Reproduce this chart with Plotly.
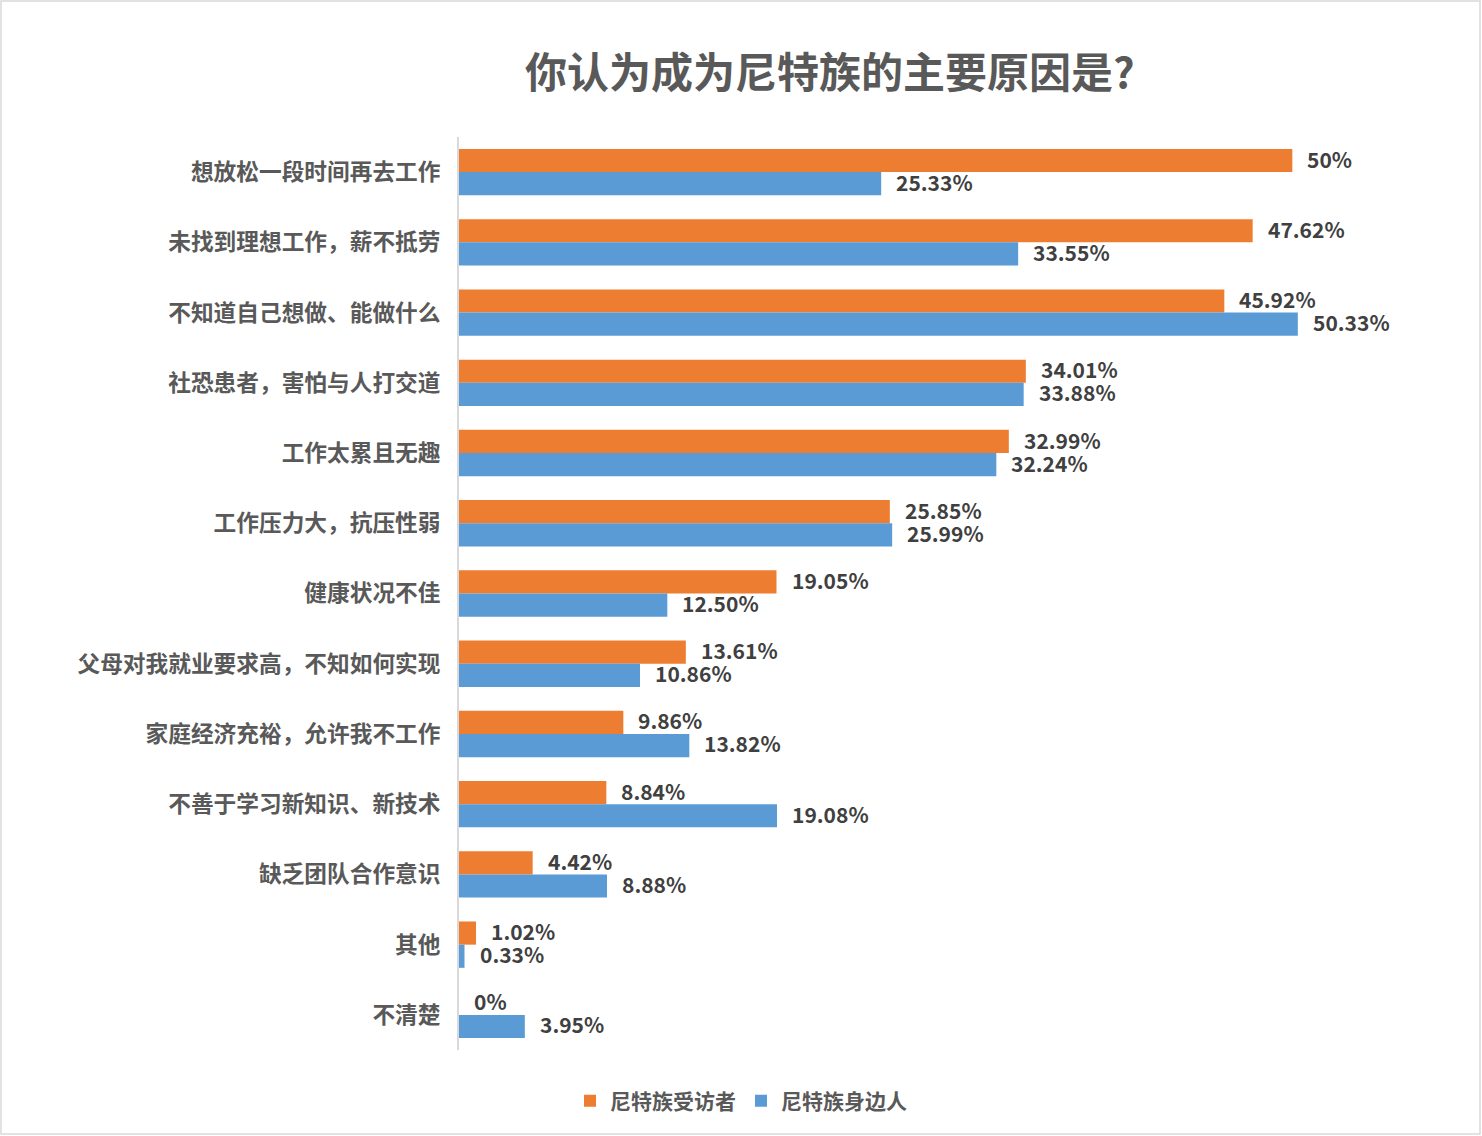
import plotly.graph_objects as go

categories = ["想放松一段时间再去工作", "未找到理想工作，薪不抵劳", "不知道自己想做、能做什么",
              "社恐患者，害怕与人打交道", "工作太累且无趣", "工作压力大，抗压性弱",
              "健康状况不佳", "父母对我就业要求高，不知如何实现", "家庭经济充裕，允许我不工作",
              "不善于学习新知识、新技术", "缺乏团队合作意识", "其他", "不清楚"]
neet_self = [50, 47.62, 45.92, 34.01, 32.99, 25.85, 19.05, 13.61, 9.86, 8.84, 4.42, 1.02, 0]
neet_around = [25.33, 33.55, 50.33, 33.88, 32.24, 25.99, 12.50, 10.86, 13.82, 19.08, 8.88, 0.33, 3.95]
series_names = ["尼特族受访者", "尼特族身边人"]


def fmt(v):
    return f"{v:g}%" if float(v).is_integer() else f"{v:.2f}%"


FONT = "Noto Sans CJK SC"
W, H = 1482, 1136
L, R, T, B = 459, 23, 137, 86
pw, ph = W - L - R, H - T - B

fig = go.Figure()
annos = []
for name, vals, color, ys in [(series_names[0], neet_self, "#ED7D31", 13.5),
                              (series_names[1], neet_around, "#5B9BD5", -9.5)]:
    fig.add_trace(go.Bar(
        y=categories, x=vals, name=name, orientation="h",
        marker=dict(color=color, line=dict(width=0)),
    ))
    for c, v in zip(categories, vals):
        annos.append(dict(x=v, y=c, xref="x", yref="y", text=fmt(v), showarrow=False,
                          xanchor="left", yanchor="middle", xshift=13, yshift=ys,
                          font=dict(family=FONT, size=21, color="#404040", weight="bold")))

annos.append(dict(text="你认为成为尼特族的主要原因是?", xref="paper", yref="paper",
                  x=(830 - L) / pw, y=(H - B - 70) / ph, xanchor="center", yanchor="middle",
                  showarrow=False,
                  font=dict(family=FONT, size=42, color="#595959", weight="bold")))

fig.update_layout(
    width=W, height=H,
    margin=dict(l=L, r=R, t=T, b=B),
    paper_bgcolor="white", plot_bgcolor="white",
    barmode="group", bargap=0.34, bargroupgap=0,
    font=dict(family=FONT, color="#595959"),
    xaxis=dict(range=[0, 60], visible=False, showgrid=False, zeroline=False),
    yaxis=dict(autorange="reversed", showline=True, linecolor="#D9D9D9", linewidth=2,
               ticks="outside", ticklen=12, tickcolor="rgba(0,0,0,0)",
               tickfont=dict(family=FONT, size=22.7, color="#595959", weight="bold"),
               showgrid=False, zeroline=False),
    legend=dict(orientation="h", x=0.5, xanchor="center", xref="container",
                y=(1136 - 1101) / 1136, yref="container", yanchor="middle",
                font=dict(family=FONT, size=21, color="#595959", weight="bold"),
                itemwidth=30, traceorder="normal", tracegroupgap=0),
    showlegend=True,
    annotations=annos,
    shapes=[dict(type="rect", xref="paper", yref="paper",
                 x0=(1 - L) / pw, x1=(W - 2 - L) / pw,
                 y0=(H - B - (H - 2)) / ph, y1=(H - B - 1) / ph,
                 line=dict(color="#D9D9D9", width=1.5), layer="below")],
)

fig.write_html("out.html", config={"displayModeBar": False},
               post_script="document.body.style.margin='0';document.body.style.overflow='hidden';")
